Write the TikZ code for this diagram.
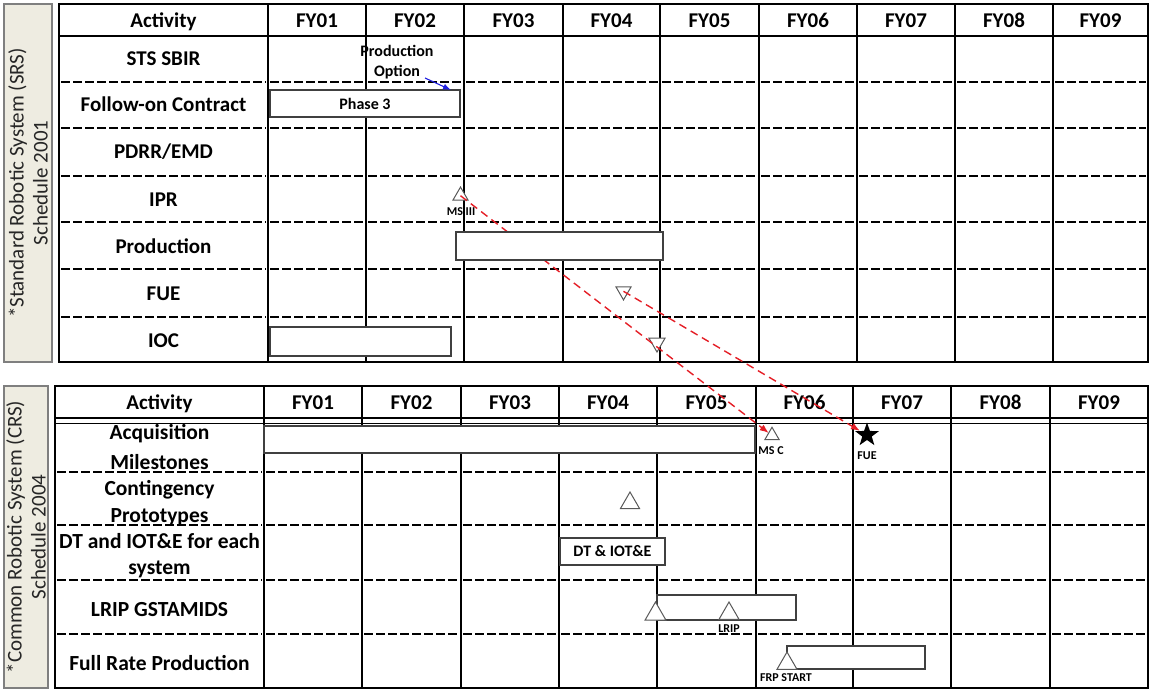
\documentclass[tikz,border=0pt]{standalone}
\usepackage{fontspec}
\setmainfont{Carlito}
\usetikzlibrary{shapes.geometric,arrows.meta}
\definecolor{beige}{HTML}{EEECE1}
\definecolor{sidegray}{HTML}{7F7F7F}
\definecolor{arrred}{HTML}{E41E26}
\definecolor{arrblue}{HTML}{1F1FE0}
\begin{document}
\begin{tikzpicture}[x=1pt,y=-1pt,
  gridline/.style={line width=1.9pt},
  thingrid/.style={line width=1.2pt},
  dashrow/.style={line width=1.9pt, dash pattern=on 8.5pt off 3.5pt},
  bar/.style={draw=black!75, line width=1.1pt, fill=white, inner sep=0pt, outer sep=0pt,
     font=\fontsize{16}{19}\selectfont\bfseries},
  lbl/.style={font=\fontsize{21}{25}\selectfont\bfseries, inner sep=0pt, anchor=base},
  lblb/.style={font=\fontsize{21.5}{25}\selectfont\bfseries, inner sep=0pt, anchor=base},
  small/.style={font=\fontsize{12}{14}\selectfont\bfseries, inner sep=0pt, anchor=base},
  mid/.style={font=\fontsize{16}{19}\selectfont\bfseries, inner sep=0pt, anchor=base},
  tri/.style={regular polygon, regular polygon sides=3, draw=black!65, fill=white,
     line width=1pt, inner sep=0pt, outer sep=0pt},
  itri/.style={tri, shape border rotate=180},
  side/.style={draw=sidegray, line width=1.6pt, fill=beige},
  sidetext/.style={rotate=90, align=center, text=black!85,
     font=\fontsize{21}{24}\selectfont, inner sep=0pt},
  redarrow/.style={draw=arrred, line width=1.4pt, dash pattern=on 8pt off 5pt,
     -{Latex[length=9pt,width=7pt]}},
  bluearrow/.style={draw=arrblue, line width=1.1pt, -{Latex[length=8pt,width=6pt]}}
]
\useasboundingbox (0,0) rectangle (1149,690);

% ---------- side boxes ----------
\draw[side] (4,4) rectangle (52,362);
\node[sidetext] (srs) at (28,183) {*Standard Robotic System (SRS)\\Schedule 2001};
\draw[side] (4,386) rectangle (48,688);
\node[sidetext] (crs) at (26,537) {*Common Robotic System (CRS)\\Schedule 2004};

% ---------- top table grid ----------
\foreach \y in {82,128,176,222,269,317}{
  \foreach \a/\b in {59/268,268/366,366/464,464/563,563/660,660/759,759/857,857/955,955/1053,1053/1148}{
    \draw[dashrow] (\a+2,\y) -- (\b-2,\y);
  }}
\foreach \x in {268,366,464,563,660,759,857,955,1053}{\draw[gridline] (\x,4) -- (\x,362);}
\draw[gridline] (59,36) -- (1148,36);
\draw[gridline] (59,4) rectangle (1148,362);

% ---------- bottom table grid ----------
\foreach \y in {472,525,580,634}{
  \foreach \a/\b in {55/264,264/362,362/461,461/559,559/657,657/756,756/853,853/951,951/1050,1050/1148}{
    \draw[dashrow] (\a+2,\y) -- (\b-2,\y);
  }}
\foreach \x in {264,362,461,559,657,756,853,951,1050}{\draw[gridline] (\x,386) -- (\x,688);}
\draw[thingrid] (55,418) -- (1148,418);
\draw[thingrid] (55,423.5) -- (1148,423.5);
\draw[gridline] (55,386) rectangle (1148,688);

% ---------- top headers ----------
\foreach \x/\t [count=\i] in {163.5/Activity,317/FY01,415/FY02,513.5/FY03,611.5/FY04,709.5/FY05,808/FY06,906/FY07,1004/FY08,1100.5/FY09}{
  \node[lbl] (th\i) at (\x,28) {\t};
}
\node[lbl] (r1) at (163.5,66) {STS SBIR};
\node[lbl] (r2) at (163.5,112) {Follow-on Contract};
\node[lbl] (r3) at (163.5,159) {PDRR/EMD};
\node[lbl] (r4) at (163.5,206) {IPR};
\node[lbl] (r5) at (163.5,253) {Production};
\node[lbl] (r6) at (163.5,300) {FUE};
\node[lbl] (r7) at (163.5,347) {IOC};

% ---------- bottom headers ----------
\foreach \x/\t [count=\i] in {159.5/Activity,313/FY01,411.5/FY02,510/FY03,608/FY04,706.5/FY05,804.5/FY06,902/FY07,1000.5/FY08,1099/FY09}{
  \node[lbl] (bh\i) at (\x,409) {\t};
}
\node[lblb] (s1a) at (159.5,439) {Acquisition};
\node[lblb] (s1b) at (159.5,469) {Milestones};
\node[lblb] (s2a) at (159.5,495) {Contingency};
\node[lblb] (s2b) at (159.5,522) {Prototypes};
\node[lblb] (s3a) at (159.5,548) {DT and IOT\&E for each};
\node[lblb] (s3b) at (159.5,574) {system};
\node[lblb] (s4) at (159.5,616) {LRIP GSTAMIDS};
\node[lblb] (s5) at (159.5,670) {Full Rate Production};

% ---------- milestones (triangles) ----------
\node[tri, minimum size=17.3pt] (msIII) at (460.5,195.7) {};
\node[itri, minimum size=17.3pt] (fueT) at (623.5,291.3) {};
\node[itri, minimum size=18.5pt] (iocT) at (657,342.8) {};
\node[tri, minimum size=16.5pt] (msC) at (772,435.5) {};
\node[tri, minimum size=22pt] (cont) at (630,503) {};
\node[star, star points=5, star point ratio=2.5, fill=black, inner sep=0pt,
      minimum size=25pt] (fueS) at (867,435) {};

% ---------- red dashed links ----------
\draw[redarrow] (msIII.center) -- (msC);
\draw[redarrow] (fueT.center) -- (fueS);

% ---------- bars ----------
\node[bar, minimum width=190pt, minimum height=27pt] (phase3) at (365,103.5) {Phase 3};
\node[bar, minimum width=207pt, minimum height=28pt] (prod) at (559.5,246) {};
\node[bar, minimum width=181pt, minimum height=29pt] (ioc) at (360.5,341.5) {};
\node[bar, minimum width=491pt, minimum height=27pt] (acq) at (509.5,439.5) {};
\node[bar, minimum width=105pt, minimum height=27pt] (dt) at (612.5,551.5) {DT \& IOT\&E};
\node[bar, minimum width=139pt, minimum height=25pt] (lripbar) at (726.5,607.5) {};
\node[bar, minimum width=138pt, minimum height=23pt] (frpbar) at (856,657.5) {};

\node[tri, minimum size=24pt] (lrip1) at (655.5,614) {};
\node[tri, minimum size=23pt] (lrip2) at (729,613.5) {};
\node[tri, minimum size=23pt] (frpT) at (787,663.5) {};

% ---------- labels ----------
\node[mid] (po1) at (397,57) {Production};
\node[mid] (po2) at (397,77) {Option};
\coordinate (bstart) at (425,78);
\coordinate (bend) at (451,90);
\draw[bluearrow] (bstart) -- (bend);

\node[small] (lmsIII) at (461,215) {MS III};
\node[small] (lmsC) at (771,454) {MS C};
\node[small] (lfue) at (867,459) {FUE};
\node[small] (llrip) at (729,632) {LRIP};
\node[small] (lfrp) at (786,681) {FRP START};
\end{tikzpicture}
\end{document}
